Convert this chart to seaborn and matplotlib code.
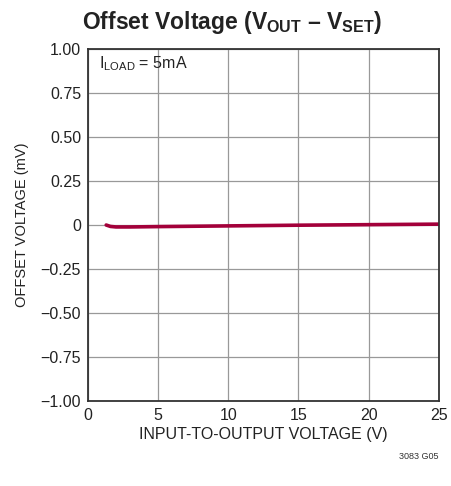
# Offset voltage vs input-to-output voltage
import numpy as np
import pandas as pd
import seaborn as sns
from matplotlib import pyplot as plt

# data
vin_out = [1.3, 1.6, 2.0, 3.0, 5.0, 10.0, 15.0, 20.0, 25.0]
offset_mv = [0.0, -0.008, -0.011, -0.011, -0.009, -0.005, -0.001, 0.002, 0.005]
x_ticks = [0, 5, 10, 15, 20, 25]
y_ticks = [-1.0, -0.75, -0.5, -0.25, 0, 0.25, 0.5, 0.75, 1.0]
y_labels = ['\u22121.00', '\u22120.75', '\u22120.50', '\u22120.25', '0', '0.25', '0.50', '0.75', '1.00']

sns.set_style('white')
plt.rcParams['font.family'] = ['Liberation Sans', 'DejaVu Sans']
plt.rcParams['mathtext.fontset'] = 'custom'
plt.rcParams['mathtext.rm'] = 'Liberation Sans'
plt.rcParams['mathtext.bf'] = 'Liberation Sans:bold'

df = pd.DataFrame({'v': vin_out, 'off': offset_mv})

fig = plt.figure(figsize=(4.51, 4.86), dpi=100)
ax = fig.add_axes([0.195, 0.175, 0.778, 0.724])

sns.lineplot(data=df, x='v', y='off', ax=ax, color='#a3003a', linewidth=2.6)

ax.set_xlim(0, 25)
ax.set_ylim(-1, 1)
ax.set_xticks(x_ticks)
ax.set_yticks(y_ticks)
ax.set_yticklabels(y_labels)
ax.grid(True, color='#999999', linewidth=0.9)
for s in ax.spines.values():
    s.set_color('#333333')
    s.set_linewidth(1.3)
ax.tick_params(labelsize=11.5, colors='#222222', length=0, pad=5)

ax.set_xlabel('INPUT-TO-OUTPUT VOLTAGE (V)', fontsize=11.5, color='#222222', labelpad=3)
ax.set_ylabel('OFFSET VOLTAGE (mV)', fontsize=10.5, color='#222222', labelpad=8)

fig.text(0.515, 0.925, r'Offset Voltage (V$_{\mathbf{OUT}}$ – V$_{\mathbf{SET}}$)',
         ha='center', va='bottom', fontsize=16.5, fontweight='bold', color='#222222')
ax.text(0.8, 0.92, r'I$_{\mathregular{LOAD}}$ = 5mA', fontsize=11.5, color='#222222', va='center')
fig.text(0.973, 0.055, '3083 G05', ha='right', fontsize=6.5, color='#333333')

plt.savefig('out.png', dpi=100)
